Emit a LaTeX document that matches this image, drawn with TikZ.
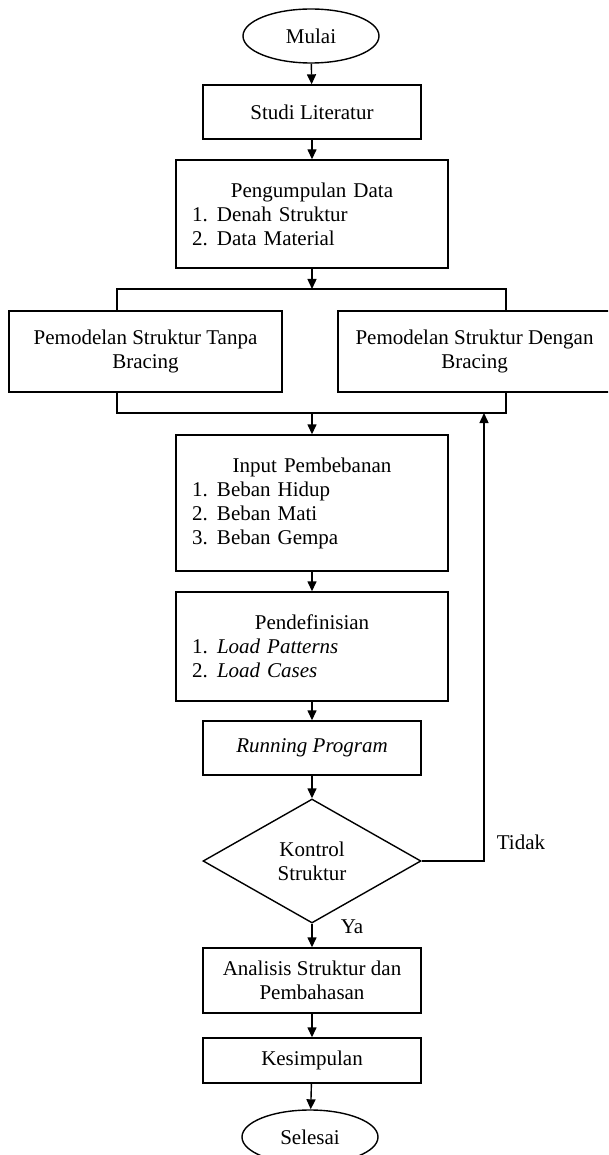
\documentclass[tikz,border=0pt]{standalone}
\usepackage{fontspec}
\setmainfont{Liberation Serif}
\usepackage{tikz}
\usetikzlibrary{arrows.meta, positioning, shapes.geometric, calc}

\begin{document}
\begin{tikzpicture}[
  x=1pt, y=-1pt,
  >={Triangle[length=10pt,width=9pt]},
  line width=1.4pt,
  box/.style={draw, align=center, inner sep=0pt, font=\fontsize{21}{24}\selectfont},
  term/.style={box, ellipse, minimum width=136pt, minimum height=54pt},
  lst/.style={box, align=left, text width=240pt},
  arr/.style={->},
]
\useasboundingbox (0,0) rectangle (608,1155);
\clip (0,0) rectangle (608,1155);
\node[term] (ml) at (311,36) {Mulai};
\node[box,minimum width=218pt,minimum height=54pt] (sl) at (312,112) {Studi Literatur};
\node[lst,minimum width=272pt,minimum height=108pt] (pd) at (312,214)
  {\makebox[240pt]{Pengumpulan Data}\\\makebox[25pt][l]{1.}Denah Struktur\\\makebox[25pt][l]{2.}Data Material};
\node[box,minimum width=273pt,minimum height=81pt] (tl) at (145.5,351.5) {Pemodelan Struktur Tanpa\\Bracing};
\node[box,minimum width=273pt,minimum height=81pt] (tr) at (474.5,351.5) {Pemodelan Struktur Dengan\\Bracing};
\node[lst,minimum width=272pt,minimum height=136pt] (ip) at (312,503)
  {\makebox[240pt]{Input Pembebanan}\\\makebox[25pt][l]{1.}Beban Hidup\\\makebox[25pt][l]{2.}Beban Mati\\\makebox[25pt][l]{3.}Beban Gempa};
\node[lst,minimum width=272pt,minimum height=109pt] (pf) at (312,646.5)
  {\makebox[240pt]{Pendefinisian}\\\makebox[25pt][l]{1.}\textit{Load Patterns}\\\makebox[25pt][l]{2.}\textit{Load Cases}};
\node[box,minimum width=218pt,minimum height=54pt] (rp) at (312,748) {\textit{Running Program}};
\node[box,diamond,minimum width=218pt,minimum height=124pt] (ks) at (312,861) {Kontrol\\Struktur};
\node[box,minimum width=218pt,minimum height=65pt] (an) at (312,980.5) {Analisis Struktur dan\\Pembahasan};
\node[box,minimum width=218pt,minimum height=45pt] (kp) at (312,1060.5) {Kesimpulan};
\node[term] (se) at (310,1137) {Selesai};
\node[font=\fontsize{21}{24}\selectfont] (td) at (521,842) {Tidak};
\node[font=\fontsize{21}{24}\selectfont] (ya) at (352,927) {Ya};
% titik percabangan
\coordinate (jt) at (312,289);
\coordinate (jl) at (117,289);
\coordinate (jr) at (506,289);
\coordinate (jb) at (312,413);
\coordinate (jbl) at (117,413);
\coordinate (jbr) at (506,413);
\coordinate (fb) at (484,413);
\draw[arr] (ml) -- (sl);
\draw[arr] (sl) -- (pd);
\draw[arr] (pd) -- (jt);
\draw (tl.north -| jl) -- (jl) -- (jr) -- (tr.north -| jr);
\draw (tl.south -| jbl) -- (jbl) -- (jbr) -- (tr.south -| jbr);
\draw[arr] (jb) -- (ip);
\draw[arr] (ip) -- (pf);
\draw[arr] (pf) -- (rp);
\draw[arr] (rp) -- (ks);
\draw[arr] (ks) -- (an);
\draw[arr] (an) -- (kp);
\draw[arr] (kp) -- (se);
\draw[arr] (ks.east) -| (fb);
\end{tikzpicture}
\end{document}
